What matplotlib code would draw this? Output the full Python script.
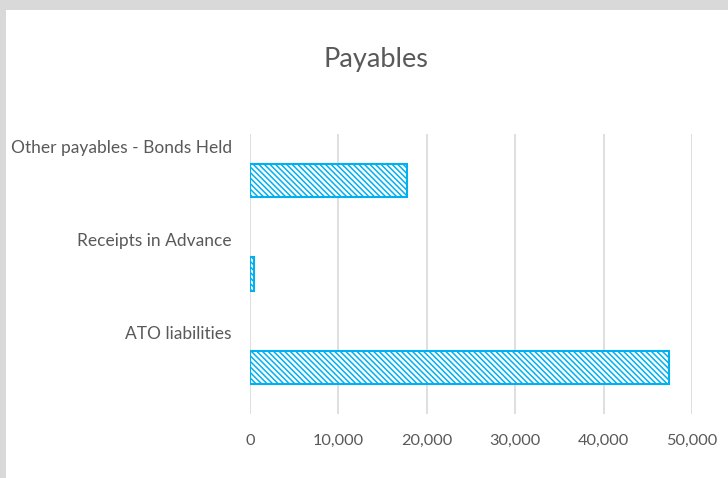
import matplotlib.pyplot as plt
from matplotlib.patches import Rectangle

categories = ['ATO liabilities', 'Receipts in Advance', 'Other payables - Bonds Held']
values = [47400, 500, 17800]
xticks = [0, 10000, 20000, 30000, 40000, 50000]

text_col = '#595959'
bar_col = '#00B0F0'

plt.rcParams['font.family'] = ['Lato', 'DejaVu Sans']
plt.rcParams['hatch.linewidth'] = 1.1
plt.rcParams['hatch.color'] = bar_col

fig = plt.figure(figsize=(7.28, 4.78), dpi=100, facecolor='#D9D9D9')
# white chart area inside the grey frame
fig.patches.append(Rectangle((6/728, 0), 1, 1 - 10/478, transform=fig.transFigure,
                             facecolor='white', edgecolor='none', zorder=0))

ax = fig.add_axes([250/728, 1 - 414/478, 442/728, 280/478])
ax.set_facecolor('none')
ax.set_zorder(2)

y = range(len(categories))
ax.barh(y, values, height=0.36, color='white', edgecolor=bar_col,
        linewidth=1.5, hatch='\\' * 6, zorder=3)

ax.set_xlim(0, 50000)
ax.set_ylim(-0.5, 2.5)
ax.set_xticks(xticks)
ax.set_xticklabels([f'{v:,}' for v in xticks])
# category names sit above each bar
ax.set_yticks([i + 0.37 for i in y])
ax.set_yticklabels(categories)

ax.grid(axis='x', color='#D9D9D9', linewidth=1.2, zorder=0)
ax.set_axisbelow(True)
for s in ax.spines.values():
    s.set_visible(False)
ax.tick_params(axis='both', length=0, colors=text_col)
ax.tick_params(axis='y', pad=13, labelsize=12.5)
ax.tick_params(axis='x', pad=14.5, labelsize=11.7)

fig.text(376/728, 1 - 60/478, 'Payables', ha='center', va='center',
         fontsize=19.5, color=text_col, zorder=3)

fig.savefig('out.png', dpi=100, facecolor=fig.get_facecolor())
